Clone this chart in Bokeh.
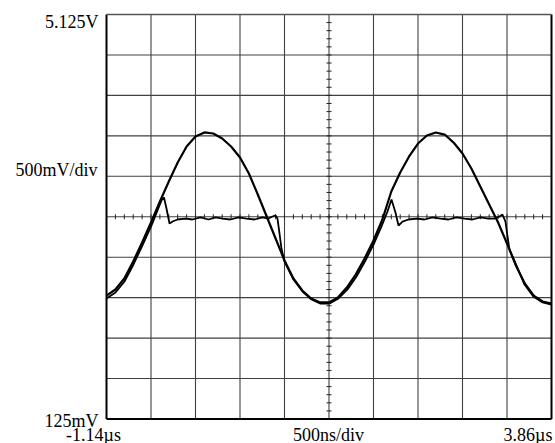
from bokeh.plotting import figure
from bokeh.models import Label, Range1d
from bokeh.embed import file_html
from bokeh.resources import INLINE

# ---- axis settings (oscilloscope screen) ----
t_min, t_max = -1.14, 3.86        # µs
v_min, v_max = 0.125, 5.125       # V
t_div = 0.5                       # 500 ns/div
v_div = 0.5                       # 500 mV/div

# ---- trace 1: sine-like waveform (time µs, volts) ----
sine_t = [-1.14, -1.04, -0.94, -0.84, -0.74, -0.64, -0.54, -0.44, -0.34, -0.24,
          -0.14, -0.04, 0.06, 0.16, 0.26, 0.36, 0.46, 0.56, 0.66, 0.76,
          0.86, 0.96, 1.06, 1.16, 1.26, 1.36, 1.46, 1.56, 1.66, 1.76,
          1.86, 1.96, 2.06, 2.16, 2.26, 2.36, 2.46, 2.56, 2.66, 2.76,
          2.86, 2.96, 3.06, 3.16, 3.26, 3.36, 3.46, 3.56, 3.66, 3.76, 3.86]
sine_v = [1.651, 1.726, 1.862, 2.072, 2.307, 2.554, 2.813, 3.060, 3.295, 3.493,
          3.617, 3.667, 3.654, 3.592, 3.493, 3.358, 3.159, 2.900, 2.628, 2.356,
          2.084, 1.862, 1.714, 1.615, 1.566, 1.566, 1.627, 1.750, 1.911, 2.109,
          2.331, 2.591, 2.937, 3.172, 3.370, 3.530, 3.629, 3.667, 3.641, 3.542,
          3.407, 3.222, 2.999, 2.777, 2.554, 2.295, 2.022, 1.800, 1.651, 1.578, 1.552]

# ---- trace 2: clamped waveform (time µs, volts) ----
clamp_t = [-1.14, -1.039, -0.938, -0.837, -0.736, -0.634, -0.567, -0.522, -0.494, -0.466,
           -0.432, -0.398, -0.342, -0.252, -0.174, -0.084, 0.006, 0.085, 0.163, 0.253,
           0.343, 0.433, 0.523, 0.613, 0.680, 0.725, 0.759, 0.781, 0.804, 0.826,
           0.860, 0.961, 1.062, 1.163, 1.265, 1.366, 1.467, 1.568, 1.669, 1.770,
           1.871, 1.950, 2.017, 2.062, 2.107, 2.141, 2.186, 2.253, 2.343, 2.433,
           2.523, 2.613, 2.703, 2.793, 2.883, 2.972, 3.062, 3.152, 3.220, 3.276,
           3.309, 3.343, 3.366, 3.388, 3.433, 3.557, 3.656, 3.759, 3.860]
clamp_v = [1.615, 1.689, 1.825, 2.035, 2.270, 2.517, 2.702, 2.826, 2.863, 2.727,
           2.542, 2.566, 2.591, 2.603, 2.591, 2.616, 2.591, 2.616, 2.603, 2.591,
           2.616, 2.603, 2.591, 2.616, 2.603, 2.628, 2.641, 2.603, 2.418, 2.232,
           2.072, 1.849, 1.701, 1.602, 1.552, 1.552, 1.615, 1.726, 1.886, 2.084,
           2.307, 2.505, 2.690, 2.838, 2.678, 2.517, 2.566, 2.591, 2.603, 2.591,
           2.616, 2.603, 2.591, 2.616, 2.603, 2.591, 2.616, 2.603, 2.603, 2.628,
           2.653, 2.566, 2.380, 2.220, 2.109, 1.787, 1.639, 1.566, 1.540]

# ---- screen annotation texts ----
top_label = "5.125V"
bottom_label = "125mV"
vdiv_label = "500mV/div"
tstart_label = "-1.14\u00b5s"
tdiv_label = "500ns/div"
tend_label = "3.86\u00b5s"

W, H = 555, 443
# graticule placement on the canvas (pixels)
left_px, right_px, top_px, bottom_px = 106, 551, 14, 418.5
px_t = (t_max - t_min) / (right_px - left_px)
px_v = (v_max - v_min) / (bottom_px - top_px)

p = figure(width=W, height=H,
           x_range=Range1d(t_min - left_px * px_t, t_max + (W - right_px) * px_t),
           y_range=Range1d(v_min - (H - bottom_px) * px_v, v_max + top_px * px_v),
           x_axis_type=None, y_axis_type=None, toolbar_location=None,
           output_backend="svg", min_border=0)
p.background_fill_color = "white"
p.border_fill_color = "white"
p.outline_line_color = None
p.grid.visible = False

# graticule
n_tdiv = int(round((t_max - t_min) / t_div))
n_vdiv = int(round((v_max - v_min) / v_div))
gx = [t_min + k * t_div for k in range(1, n_tdiv)]
gy = [v_min + k * v_div for k in range(1, n_vdiv)]
p.segment(x0=gx, y0=[v_min] * len(gx), x1=gx, y1=[v_max] * len(gx),
          line_color="#404040", line_width=1.1)
p.segment(x0=[t_min] * len(gy), y0=gy, x1=[t_max] * len(gy), y1=gy,
          line_color="#404040", line_width=1.1)

# minor ticks on centre lines
tc = (t_min + t_max) / 2
vc = (v_min + v_max) / 2
mt = [t_min + k * t_div / 5 for k in range(1, n_tdiv * 5)]
mv = [v_min + k * v_div / 5 for k in range(1, n_vdiv * 5)]
p.segment(x0=mt, y0=[vc - 2.5 * px_v] * len(mt), x1=mt, y1=[vc + 2.5 * px_v] * len(mt),
          line_color="#222222", line_width=1)
p.segment(x0=[tc - 2.5 * px_t] * len(mv), y0=mv, x1=[tc + 2.5 * px_t] * len(mv), y1=mv,
          line_color="#222222", line_width=1)

# screen frame
p.segment(x0=[t_min, t_max, t_min], y0=[v_min, v_min, v_min],
          x1=[t_min, t_max, t_max], y1=[v_max, v_max, v_min],
          line_color="black", line_width=2)
p.segment(x0=[t_min], y0=[v_max], x1=[t_max], y1=[v_max],
          line_color="#555555", line_width=1.5)

# traces
p.line(sine_t, sine_v, line_color="black", line_width=2.2)
p.line(clamp_t, clamp_v, line_color="black", line_width=1.8)

font = "Liberation Serif"
fs = "18px"

def lab(text, xpx, baseline_px, align):
    p.add_layout(Label(x=t_min + (xpx - left_px) * px_t,
                       y=v_max - (baseline_px - top_px) * px_v,
                       text=text, text_font=font, text_font_size=fs,
                       text_color="black", text_align=align,
                       text_baseline="alphabetic"))

lab(top_label, 98, 21, "right")
lab(vdiv_label, 97, 169, "right")
lab(bottom_label, 98, 420, "right")
lab(tstart_label, 93, 434, "center")
lab(tdiv_label, 328, 434, "center")
lab(tend_label, 552, 434, "right")

open("out.html", "w").write(file_html(p, INLINE))
